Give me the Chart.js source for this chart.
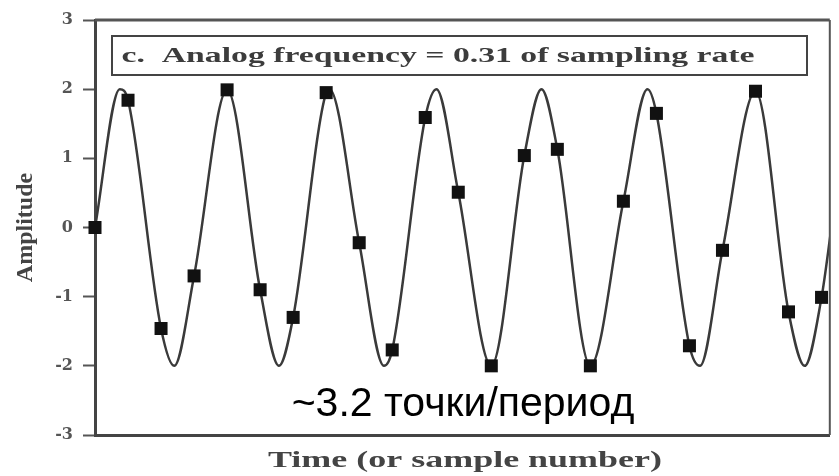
<!DOCTYPE html>
<html>
<head>
<meta charset="utf-8">
<title>Analog frequency = 0.31 of sampling rate</title>
<script src="https://cdn.jsdelivr.net/npm/chart.js@4.4.1/dist/chart.umd.min.js"></script>
<style>
  html, body { margin: 0; padding: 0; background: #fff; }
  #wrap { width: 839px; height: 476px; }
</style>
</head>
<body>
<div id="wrap"><canvas id="signal" width="839" height="476"></canvas></div>
<script>
// samples (sample number -> amplitude)
const sampleIndex = [0, 1, 2, 3, 4, 5, 6, 7, 8, 9, 10, 11, 12, 13, 14, 15, 16, 17, 18, 19, 20, 21, 22];
const sampleValues = [0, 1.84, -1.46, -0.70, 1.99, -0.90, -1.30, 1.95, -0.22, -1.77, 1.59, 0.51,
    -2.0, 1.04, 1.13, -2.0, 0.38, 1.65, -1.71, -0.33, 1.97, -1.22, -1.01];

// analog curve: peaks / troughs, plus where it leaves the frame
const curveTimes = [0.75, 2.40, 4.02, 5.57, 7.10, 8.75, 10.34, 12.05, 13.52, 15.02, 16.73, 18.32, 20.00, 21.49, 22.30];
const curveValues = [2, -2, 2, -2, 2, -2, 2, -2, 2, -2, 2, -2, 2, -2, 0];

const yTicks = [-3, -2, -1, 0, 1, 2, 3];

const boxText = 'c.  Analog frequency = 0.31 of sampling rate';
const xTitle = 'Time (or sample number)';
const yTitle = 'Amplitude';
const noteText = '~3.2 точки/период';

// the analog line runs through its extremes and through every sample
function curvePoints() {
    let pts = sampleIndex.map((n, i) => ({ x: n, y: sampleValues[i] }));
    curveTimes.forEach((t, i) => {
        if (!sampleIndex.some(n => Math.abs(n - t) < 0.06)) {
            pts.push({ x: t, y: curveValues[i] });
        }
    });
    return pts.sort((a, b) => a.x - b.x);
}

// text squeezed/stretched to a given width (the scanned figure is wide)
function wideText(ctx, text, cx, cy, width, font, color) {
    ctx.font = font;
    let w = ctx.measureText(text).width;
    ctx.save();
    ctx.translate(cx, cy);
    ctx.scale(width / w, 1);
    ctx.fillStyle = color;
    ctx.textAlign = 'center';
    ctx.textBaseline = 'middle';
    ctx.fillText(text, 0, 0);
    ctx.restore();
}

const figureText = {
    id: 'figureText',
    afterDraw(chart) {
        const ctx = chart.ctx;
        const a = chart.chartArea;
        ctx.save();
        // top and right frame
        ctx.strokeStyle = '#555';
        ctx.lineWidth = 3;
        ctx.beginPath();
        ctx.moveTo(a.left, a.top);
        ctx.lineTo(a.right, a.top);
        ctx.stroke();
        ctx.lineWidth = 2;
        ctx.beginPath();
        ctx.moveTo(a.right, a.top);
        ctx.lineTo(a.right, a.bottom);
        ctx.stroke();

        // caption box
        ctx.fillStyle = '#fff';
        ctx.fillRect(112, 36, 695, 39);
        ctx.strokeStyle = '#444';
        ctx.lineWidth = 2;
        ctx.strokeRect(112, 36, 695, 39);
        wideText(ctx, boxText, 438, 56, 633, 'bold 22px "Liberation Serif"', '#3c3c3c');

        // x axis title
        wideText(ctx, xTitle, 465, 461, 394, 'bold 23px "Liberation Serif"', '#444');

        // note
        ctx.font = '41px "Liberation Sans"';
        ctx.fillStyle = '#000';
        ctx.textAlign = 'center';
        ctx.textBaseline = 'alphabetic';
        ctx.fillText(noteText, 463, 416);
        ctx.restore();
    }
};

const chart = new Chart(document.getElementById('signal'), {
    type: 'scatter',
    data: {
        datasets: [{
            label: 'analog',
            data: curvePoints(),
            showLine: true,
            cubicInterpolationMode: 'monotone',
            borderColor: '#3a3a3a',
            borderWidth: 2.5,
            pointRadius: 0,
            order: 2
        }, {
            label: 'samples',
            data: sampleIndex.map((n, i) => ({ x: n, y: sampleValues[i] })),
            pointStyle: 'rect',
            pointRadius: 9.2,
            pointHoverRadius: 9.2,
            backgroundColor: '#111',
            borderColor: '#111',
            borderWidth: 0,
            clip: false,
            order: 1
        }]
    },
    options: {
        responsive: false,
        animation: false,
        devicePixelRatio: 1,
        layout: { padding: { top: 20, right: 2, left: 0, bottom: 0 } },
        plugins: {
            legend: { display: false },
            tooltip: { enabled: false }
        },
        scales: {
            x: {
                type: 'linear',
                min: 0,
                max: 22.25,
                ticks: { display: false },
                grid: { display: true, drawOnChartArea: false, drawTicks: false },
                border: { display: true, color: '#444', width: 3 },
                afterFit(scale) { scale.height = 41; }
            },
            y: {
                min: -3,
                max: 3,
                afterBuildTicks(scale) { scale.ticks = yTicks.map(v => ({ value: v })); },
                ticks: {
                    padding: 10,
                    color: '#555',
                    font: { family: 'DejaVu Serif', weight: 'bold', size: 16 }
                },
                grid: { drawOnChartArea: false, drawTicks: true, tickLength: 12, tickWidth: 2, tickColor: '#555' },
                border: { display: true, color: '#444', width: 3 },
                title: {
                    display: true,
                    text: yTitle,
                    color: '#444',
                    padding: { top: 11, bottom: 0 },
                    font: { family: 'Liberation Serif', weight: 'bold', size: 24 }
                },
                afterFit(scale) { scale.width = 95; }
            }
        }
    },
    plugins: [figureText]
});
</script>
</body>
</html>
